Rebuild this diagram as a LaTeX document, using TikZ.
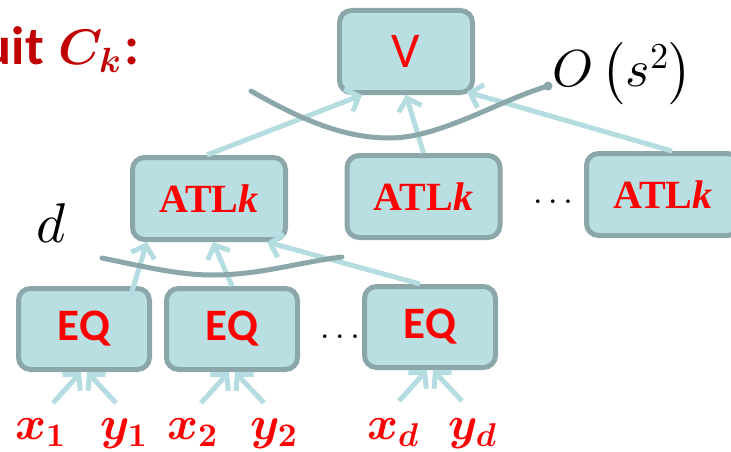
\documentclass[tikz,border=0pt]{standalone}
\usepackage[no-math]{fontspec}
\usepackage{bm}
\DeclareFontShape{OML}{cmm}{m}{it}{<->cmmi10}{}
\DeclareFontShape{OML}{cmm}{b}{it}{<->cmmib10}{}
\DeclareFontShape{OT1}{cmr}{m}{n}{<->cmr10}{}
\DeclareFontShape{OT1}{cmr}{bx}{n}{<->cmbx10}{}
\DeclareFontShape{OMS}{cmsy}{m}{n}{<->cmsy10}{}
\DeclareFontShape{OMS}{cmsy}{b}{n}{<->cmbsy10}{}
\DeclareFontShape{OMX}{cmex}{m}{n}{<->cmex10}{}
\newfontfamily\calib{Carlito}
\newfontfamily\cambr{Liberation Serif}
\usetikzlibrary{arrows.meta}
\definecolor{boxfill}{HTML}{B9DFE3}
\definecolor{boxdraw}{HTML}{8CA7AA}
\definecolor{arr}{HTML}{B5DDE1}
\definecolor{titred}{HTML}{C00000}
\definecolor{nred}{HTML}{FF0000}
\tikzset{
 box/.style={draw=boxdraw, fill=boxfill, line width=5pt, rounded corners=12pt, inner sep=0pt, text=nred},
 eqbox/.style={box, minimum width=131pt, minimum height=81pt, font=\calib\bfseries\fontsize{45}{50}\selectfont},
 atlbox/.style={box, minimum width=153pt, minimum height=82pt, font=\cambr\bfseries\fontsize{40}{46}\selectfont},
 conn/.style={draw=arr, line width=5pt, -{Straight Barb[length=11pt,width=24pt]}},
 arcline/.style={draw=boxdraw, line width=5pt, line cap=round},
 inlab/.style={anchor=base west, inner sep=0pt, text=nred, font=\fontsize{47}{54}\selectfont},
 titl/.style={inner sep=0pt, text=titred},
 dotlab/.style={inner sep=0pt, font=\fontsize{34}{38}\selectfont},
}
\begin{document}
\begin{tikzpicture}[x=1pt,y=-1pt]
\useasboundingbox (0,0) rectangle (731,452);
\begin{scope}
\clip (0,0) rectangle (731,452);
\node[atlbox] (A3) at (663,194.5) {ATL\textit{k}};
\node[titl, anchor=base east, font=\calib\bfseries\fontsize{54}{60}\selectfont] (t1) at (44,65) {uit};
\end{scope}
% boxes
\node[box, minimum width=133pt, minimum height=82pt, font=\calib\fontsize{50}{56}\selectfont] (V) at (406,51.5) {\raisebox{-3pt}{V}};
\node[atlbox] (A1) at (209,198.5) {ATL\textit{k}};
\node[atlbox] (A2) at (423.5,196.5) {ATL\textit{k}};
\node[eqbox] (E1) at (84,329) {EQ};
\node[eqbox] (E2) at (232,329) {EQ};
\node[eqbox] (E3) at (430,327) {EQ};
% labels
\node[titl, anchor=base west, font=\fontsize{50}{56}\selectfont] (t2) at (58,65) {$\bm{C}_{\bm{k}}$};
\node[titl, anchor=base west, font=\calib\bfseries\fontsize{54}{60}\selectfont] (t3) at (124,65) {:};
\node[anchor=base west, inner sep=0pt, font=\fontsize{52}{60}\selectfont] (O) at (552,87) {$O\left(\rule[-16pt]{0pt}{60pt}s^2\right)$};
\node[anchor=base west, inner sep=0pt, font=\fontsize{56}{60}\selectfont] (dlab) at (36,242) {$d$};
\node[dotlab] (dots1) at (553,202) {$\ldots$};
\node[dotlab] (dots2) at (340,337) {$\ldots$};
\node[inlab] (x1) at (15,439) {$\bm{x}_{\bm{1}}$};
\node[inlab] (y1) at (100,439) {$\bm{y}_{\bm{1}}$};
\node[inlab] (x2) at (167,439) {$\bm{x}_{\bm{2}}$};
\node[inlab] (y2) at (250,439) {$\bm{y}_{\bm{2}}$};
\node[inlab] (xd) at (367,439) {$\bm{x}_{\bm{d}}$};
\node[inlab] (yd) at (448,439) {$\bm{y}_{\bm{d}}$};
% connectors
\draw[conn] ([xshift=46pt,yshift=-12pt]E1.north) -- ([xshift=-62pt]A1.south);
\draw[conn] (E2.north) -- ([xshift=4pt]A1.south);
\draw[conn] ([xshift=-10pt]E3.north) -- ([xshift=58pt]A1.south);
\draw[conn] ([xshift=-2pt]A1.north) -- ([xshift=-44pt]V.south);
\draw[conn] (A2.north) -- (V.south);
\draw[conn] ([xshift=9pt]A3.north) -- ([xshift=61pt,yshift=3pt]V.south);
\foreach \e in {E1,E2,E3}{
  \draw[conn] ([xshift=-31pt,yshift=-31pt]\e.south) -- ([xshift=-3pt]\e.south);
  \draw[conn] ([xshift=32pt,yshift=-31pt]\e.south) -- ([xshift=3pt]\e.south);
}
% curves
\draw[arcline] (251,91) .. controls (310,125) and (350,138) .. (390,138) .. controls (440,138) and (500,100) .. (548,86);
\fill[boxdraw] (548,86) circle[radius=4.5pt];
\draw[arcline] (102,258) .. controls (150,268) and (180,275) .. (213,275) .. controls (260,275) and (300,262) .. (342,257);
\end{tikzpicture}
\end{document}
